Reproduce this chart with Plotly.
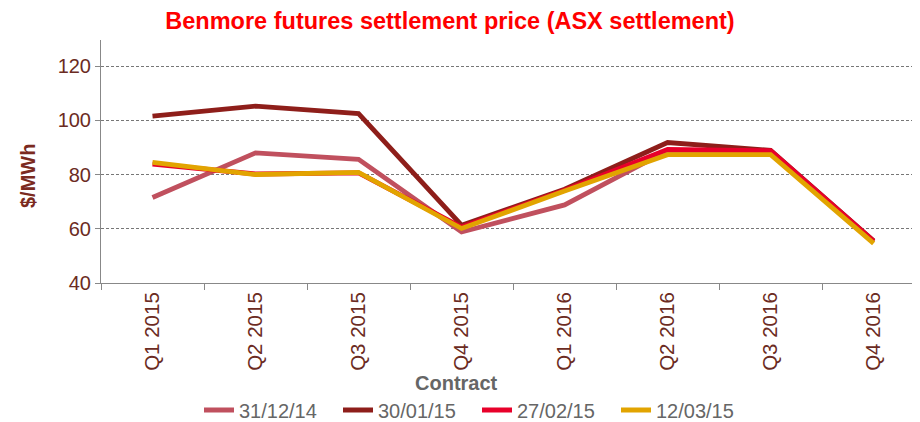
import plotly.graph_objects as go

contracts = ["Q1 2015", "Q2 2015", "Q3 2015", "Q4 2015",
             "Q1 2016", "Q2 2016", "Q3 2016", "Q4 2016"]

s_311214 = [71.5, 88.0, 85.6, 58.8, 68.8, 88.8, 88.5, 55.2]
s_300115 = [101.5, 105.2, 102.5, 61.3, 74.6, 91.8, 88.9, 55.6]
s_270215 = [83.8, 80.2, 80.6, 60.6, 74.2, 89.3, 88.8, 55.5]
s_120315 = [84.5, 80.0, 80.8, 60.1, 73.9, 87.3, 87.3, 54.6]

series = [
    ("31/12/14", s_311214, "#C0505E"),
    ("30/01/15", s_300115, "#8E1E1A"),
    ("27/02/15", s_270215, "#E8002A"),
    ("12/03/15", s_120315, "#E2A400"),
]

FONT = "Liberation Sans, Arial, sans-serif"
TICK_COLOR = "#6B2B22"

# page has an 8px body margin; the figure is sized to fill the rest of the window
OFF = 8
W, H = 920 - OFF, 422 - OFF
ML, MT, MB = 93, 32, 139
PW, PH = W - ML, H - MT - MB


def px(xpage):
    return (xpage - OFF - ML) / PW


def py(ypage):
    return (H - MB - (ypage - OFF)) / PH


fig = go.Figure()
for name, vals, col in series:
    fig.add_trace(go.Scatter(x=contracts, y=vals, name=name, mode="lines",
                             line=dict(color=col, width=4.8)))

fig.update_layout(
    width=W, height=H,
    margin=dict(l=ML, r=0, t=MT, b=MB, autoexpand=False),
    paper_bgcolor="white", plot_bgcolor="white",
    font=dict(family=FONT, size=18, color="#666666"),
    title=dict(text="<b>Benmore futures settlement price (ASX settlement)</b>",
               font=dict(family=FONT, size=23.5, color="#FF0000"),
               x=(450 - OFF) / W, xanchor="center", y=1 - 12.5 / H, yanchor="middle"),
    showlegend=True,
    legend=dict(orientation="h", x=px(199), xanchor="left",
                y=py(410), yanchor="middle",
                font=dict(family=FONT, size=20, color="#666666"),
                entrywidth=94, itemwidth=30, traceorder="normal"),
    xaxis=dict(range=[-0.5, 7.45], showline=True, linecolor="#888888", linewidth=1,
               ticks="outside", tickson="boundaries", ticklen=6, tickcolor="#888888",
               tickangle=-90, tickfont=dict(family=FONT, size=20.5, color=TICK_COLOR),
               showgrid=False, fixedrange=True, automargin=False),
    yaxis=dict(range=[40, 129.6], tickvals=[40, 60, 80, 100, 120],
               showline=True, linecolor="#888888", linewidth=1,
               ticks="outside", ticklen=5, tickcolor="#888888",
               tickfont=dict(family=FONT, size=20, color=TICK_COLOR),
               showgrid=True, gridcolor="#777777", gridwidth=1, griddash="3px,2px",
               zeroline=False, automargin=False),
    annotations=[
        dict(text="<b>Contract</b>", xref="paper", yref="paper",
             x=px(456), y=py(383),
             xanchor="center", yanchor="middle", showarrow=False,
             font=dict(family=FONT, size=20, color="#666666")),
        dict(text="<b>$/MWh</b>", xref="paper", yref="paper",
             x=px(28), y=py(176), textangle=-90,
             xanchor="center", yanchor="middle", showarrow=False,
             font=dict(family=FONT, size=20, color="#7B2A20")),
    ],
)

fig.write_html("out.html")
